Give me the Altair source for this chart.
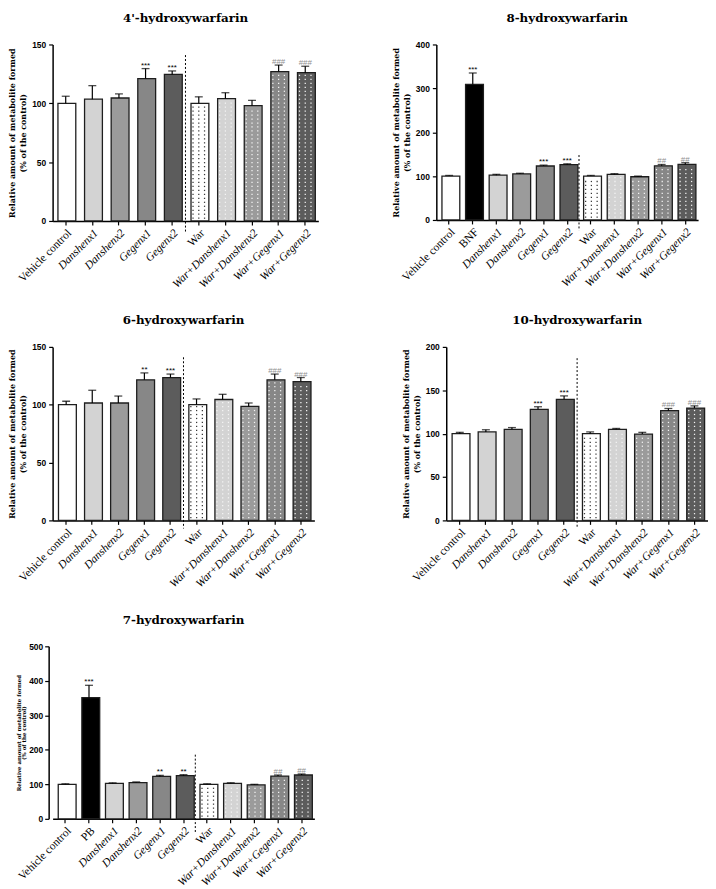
import altair as alt
import pandas as pd

# ---------------- data ----------------
groups_std = ["Vehicle control", "Danshenx1", "Danshenx2", "Gegenx1", "Gegenx2",
              "War", "War+Danshenx1", "War+Danshenx2", "War+Gegenx1", "War+Gegenx2"]
groups_bnf = ["Vehicle control", "BNF", "Danshenx1", "Danshenx2", "Gegenx1", "Gegenx2",
              "War", "War+Danshenx1", "War+Danshenx2", "War+Gegenx1", "War+Gegenx2"]
groups_pb = ["Vehicle control", "PB", "Danshenx1", "Danshenx2", "Gegenx1", "Gegenx2",
             "War", "War+Danshenx1", "War+Danshenx2", "War+Gegenx1", "War+Gegenx2"]

h4_mean = [100, 103.5, 104.5, 121, 124.5, 100, 104, 98, 127, 126]
h4_err = [6, 11.5, 3.5, 8.5, 3, 5.5, 5, 4.5, 5.5, 5.5]
h4_sig = ["", "", "", "***", "***", "", "", "", "###", "###"]

h8_mean = [100, 309, 102, 105, 123, 126, 100, 104, 98.5, 123.5, 126.5]
h8_err = [1.5, 26, 2, 1.5, 2, 2, 1.5, 1.5, 1.5, 3, 4]
h8_sig = ["", "***", "", "", "***", "***", "", "", "", "##", "##"]

h6_mean = [100, 101.5, 101.5, 121.5, 123.5, 100, 104.5, 98.5, 121.5, 120]
h6_err = [3, 11, 6, 6, 3, 5, 4.5, 3, 5, 3.5]
h6_sig = ["", "", "", "**", "***", "", "", "", "###", "###"]

h10_mean = [100, 102, 105, 128, 139.5, 100, 105, 99.5, 126.5, 129.5]
h10_err = [1.5, 2.5, 2, 3, 4, 2, 1, 2, 2.5, 2.5]
h10_sig = ["", "", "", "***", "***", "", "", "", "###", "###"]

h7_mean = [100, 351, 102.5, 105, 123, 125, 100, 103, 98.5, 124, 127]
h7_err = [1.5, 36, 2, 2, 3, 3, 1.5, 1.5, 1.5, 3, 3]
h7_sig = ["", "***", "", "", "**", "**", "", "", "", "##", "##"]

fill_colors = {
    "Vehicle control": "#ffffff", "BNF": "#000000", "PB": "#000000",
    "Danshenx1": "#d3d3d3", "Danshenx2": "#9b9b9b", "Gegenx1": "#878787", "Gegenx2": "#5c5c5c",
    "War": "#ffffff", "War+Danshenx1": "#d3d3d3", "War+Danshenx2": "#9b9b9b",
    "War+Gegenx1": "#878787", "War+Gegenx2": "#5c5c5c",
}
dotted_groups = ["War", "War+Danshenx1", "War+Danshenx2", "War+Gegenx1", "War+Gegenx2"]

SERIF = "DejaVu Serif"
LABEL_SERIF = "Liberation Serif"
SANS = "Liberation Sans"


def panel(title, groups, means, errs, sigs, y_max, y_step, width, height,
          pad_inner, pad_outer, sep_top, sep_bottom, dot_px,
          ytitle_size=8, ytitle_lh=11, ytitle_pad=4, ylabel_pad=3, yaxis_offset=0,
          title_offset=16):
    df = pd.DataFrame({"group": groups, "mean": means, "err": errs, "sig": sigs})
    df["upper"] = df["mean"] + df["err"]
    df["fillc"] = [fill_colors[g] for g in groups]
    df["sigcolor"] = ["#8f8f8f" if s.startswith("#") else "#000000" for s in sigs]

    n = len(groups)
    step = width / (n - pad_inner + 2 * pad_outer)
    half_gap = pad_inner * step / 2
    px_per_unit = height / y_max
    dstep = dot_px / px_per_unit

    # dot texture for the warfarin-combination bars
    rows = []
    for g, m in zip(groups, means):
        if g in dotted_groups:
            c = "#3a3a3a" if fill_colors[g] == "#ffffff" else "#f4f4f4"
            r = dstep * 0.7
            while r < m - dstep * 0.4:
                for col in range(3):
                    rows.append({"group": g, "y": r, "col": col, "c": c})
                r += dstep
    dots = pd.DataFrame(rows)

    xs = alt.Scale(paddingInner=pad_inner, paddingOuter=pad_outer)
    x_axis = alt.Axis(
        title=None, labelAngle=-45, labelFont=LABEL_SERIF, labelFontSize=11.5,
        labelFontStyle={"condition": {"test": "test(/Danshen|Gegen/, datum.label)", "value": "italic"},
                        "value": "normal"},
        labelColor="black", labelPadding=2, labelOverlap=False, labelFlush=False,
        tickSize=4, tickColor="black", tickWidth=1.2,
        domainColor="black", domainWidth=1.5, grid=False,
    )
    y_axis = alt.Axis(
        title=["Relative amount of metabolite formed", "(% of the control)"],
        titleFont=SERIF, titleFontWeight="bold", titleFontSize=ytitle_size,
        titleLineHeight=ytitle_lh, titlePadding=ytitle_pad, titleColor="black",
        values=list(range(0, y_max + 1, y_step)),
        labelFont=SANS, labelFontWeight="bold", labelFontSize=8.5, labelColor="black",
        labelPadding=ylabel_pad, tickSize=4, tickColor="black", tickWidth=1.2,
        domainColor="black", domainWidth=1.5, grid=False, offset=yaxis_offset,
    )
    ys = alt.Scale(domain=[0, y_max], nice=False, zero=True)

    def X(**kw):
        return alt.X("group:N", sort=groups, scale=xs, axis=x_axis, **kw)

    def Y(field):
        return alt.Y(field, scale=ys, axis=y_axis)

    bars = alt.Chart(df).mark_bar(stroke="#1e1e1e", strokeWidth=1.3).encode(
        x=X(), y=Y("mean:Q"), fill=alt.Fill("fillc:N", scale=None),
    )
    dot_layer = alt.Chart(dots).mark_square(size=1.6, opacity=1).encode(
        x=X(),
        xOffset=alt.XOffset("col:N", scale=alt.Scale(paddingInner=0, paddingOuter=0.35)),
        y=Y("y:Q"),
        fill=alt.Fill("c:N", scale=None),
    )
    err_rule = alt.Chart(df).mark_rule(color="black", strokeWidth=1.2).encode(
        x=X(), y=Y("mean:Q"), y2="upper:Q")
    err_cap = alt.Chart(df).mark_tick(color="black", thickness=1.3, size=8).encode(
        x=X(), y=Y("upper:Q"))
    sig = alt.Chart(df).mark_text(font=SANS, fontSize=8, baseline="alphabetic", dy=-1).encode(
        x=X(), y=Y("upper:Q"), text="sig:N",
        fill=alt.Fill("sigcolor:N", scale=None))
    sep_df = pd.DataFrame({"group": ["War"], "top": [sep_top], "bottom": [sep_bottom]})
    sep = alt.Chart(sep_df).mark_rule(color="black", strokeWidth=1, strokeDash=[2, 2],
                                       xOffset=-half_gap).encode(
        x=X(bandPosition=0), y=Y("top:Q"), y2="bottom:Q")

    return alt.layer(bars, dot_layer, err_rule, err_cap, sig, sep).properties(
        width=width, height=height,
        title=alt.TitleParams(title, font=SERIF, fontWeight="bold", fontSize=12,
                              anchor="middle", color="black", offset=title_offset),
    )


p1 = panel("4'-hydroxywarfarin", groups_std, h4_mean, h4_err, h4_sig, 150, 50, 268, 178,
           0.416, 0.2, 141, -9, 4)
p2 = panel("8-hydroxywarfarin", groups_bnf, h8_mean, h8_err, h8_sig, 400, 100, 264, 177,
           0.39, 0.238, 148, -24, 4)
p3 = panel("6-hydroxywarfarin", groups_std, h6_mean, h6_err, h6_sig, 150, 50, 264, 175,
           0.41, 0.225, 141, -7, 4)
p4 = panel("10-hydroxywarfarin", groups_std, h10_mean, h10_err, h10_sig, 200, 50, 264, 175,
           0.41, 0.225, 187, -9, 4)
p5 = panel("7-hydroxywarfarin", groups_pb, h7_mean, h7_err, h7_sig, 500, 100, 264, 174,
           0.396, 0.238, 186, -40, 4, ytitle_size=5.5, ytitle_lh=5, ytitle_pad=2,
           ylabel_pad=2, yaxis_offset=4)

row1 = alt.concat(p1, p2, columns=2, spacing=74, align="none")
row2 = alt.concat(p3, p4, columns=2, spacing=88)
row3 = alt.concat(p5, columns=1)
chart = alt.concat(row1, row2, row3, columns=1, spacing=24, align="none").properties(
    padding={"left": 0, "top": 0, "right": 0, "bottom": 0}
).configure_view(stroke=None)

chart.save("out.html", embed_options={"renderer": "svg", "actions": False})
